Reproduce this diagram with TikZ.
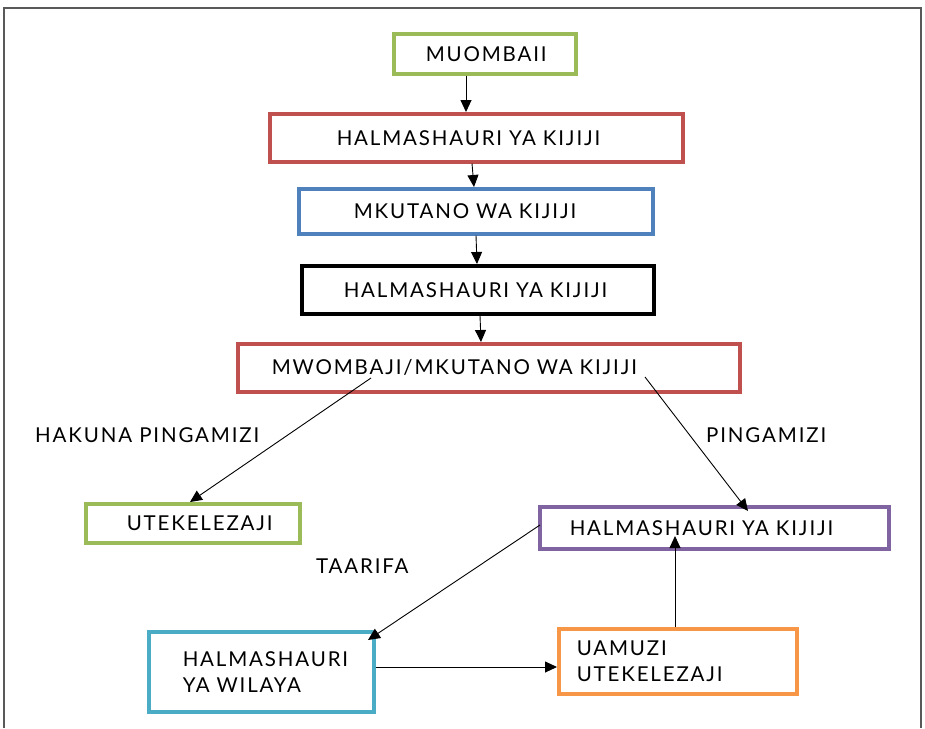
\documentclass[tikz,border=0pt]{standalone}
\usepackage{fontspec}
\setmainfont{Lato}[LetterSpace=9]
\usetikzlibrary{arrows.meta}
\definecolor{cgreen}{HTML}{9BBB59}
\definecolor{cred}{HTML}{C0504D}
\definecolor{cblue}{HTML}{4F81BD}
\definecolor{cpurple}{HTML}{8064A2}
\definecolor{ccyan}{HTML}{4BACC6}
\definecolor{corange}{HTML}{F79646}
\tikzset{
  box/.style={draw=#1, line width=3.5pt, anchor=north west, inner ysep=0pt, align=left,
    font=\fontsize{20.5}{26}\selectfont},
  lbl/.style={anchor=west, inner sep=0pt, font=\fontsize{20.5}{26}\selectfont},
  arr/.style={line width=0.9pt, -{Triangle[length=12pt,width=11pt]}},
}
\begin{document}
\begin{tikzpicture}[x=1pt,y=-1pt]
\useasboundingbox (0,0) rectangle (925,728);
\draw[line width=1.5pt, gray!70!black] (4,728) -- (4,8) -- (921,8) -- (921,728);

\node[box=cgreen, minimum width=182pt, minimum height=40pt, text width=118pt, inner xsep=32pt] (b1) at (392,32) {MUOMBAII};
\node[box=cred, minimum width=413pt, minimum height=48pt, text width=279pt, inner xsep=67pt] (b2) at (268,112) {HALMASHAURI YA KIJIJI};
\node[box=cblue, minimum width=354pt, minimum height=45pt, text width=244pt, inner xsep=55pt] (b3) at (297,187) {MKUTANO WA KIJIJI};
\node[box=black, minimum width=352pt, minimum height=48pt, text width=268pt, inner xsep=42pt] (b4) at (300,264) {HALMASHAURI YA KIJIJI};
\node[box=cred, minimum width=502pt, minimum height=48pt, text width=434pt, inner xsep=34pt] (b5) at (236,342) {MWOMBAJI/MKUTANO WA KIJIJI};
\node[box=cgreen, minimum width=214pt, minimum height=39pt, text width=132pt, inner xsep=41pt] (b6) at (84,502) {UTEKELEZAJI};
\node[box=cpurple, minimum width=349pt, minimum height=42pt, text width=289pt, inner xsep=30pt] (b7) at (538,505) {HALMASHAURI YA KIJIJI};
\node[box=ccyan, minimum width=225pt, minimum height=80pt, text width=157pt, inner xsep=34pt] (b8) at (147,630) {HALMASHAURI\\YA WILAYA};
\node[box=corange, minimum width=238pt, minimum height=65pt, text width=202pt, inner xsep=18pt] (b9) at (557,627) {UAMUZI\\UTEKELEZAJI};

\node[lbl] (l1) at (35,435) {HAKUNA PINGAMIZI};
\node[lbl] (l2) at (706,435) {PINGAMIZI};
\node[lbl] (l3) at (316,566) {TAARIFA};

\coordinate (s1) at (371,378);
\coordinate (s2) at (645,377);
\coordinate (e2) at (748,511);
\coordinate (s3) at (540,525);
\coordinate (e3) at (368,640);
\coordinate (e4) at (675,536);

\draw[arr] (b1.south -| 466,0) -- (b2.north -| 466,0);
\draw[arr] (b2.south -| 472,0) -- (b3.north -| 474,0);
\draw[arr] (b3.south -| 476,0) -- (b4.north -| 477,0);
\draw[arr] (b4.south -| 480,0) -- (b5.north -| 481,0);
\draw[arr] (s1) -- (b6.north -| 190,0);
\draw[arr] (s2) -- (e2);
\draw[arr] (s3) -- (e3);
\draw[arr] (b8.east |- 0,667) -- (b9.west |- 0,667);
\draw[arr] (b9.north -| 675,0) -- (e4);
\end{tikzpicture}
\end{document}
